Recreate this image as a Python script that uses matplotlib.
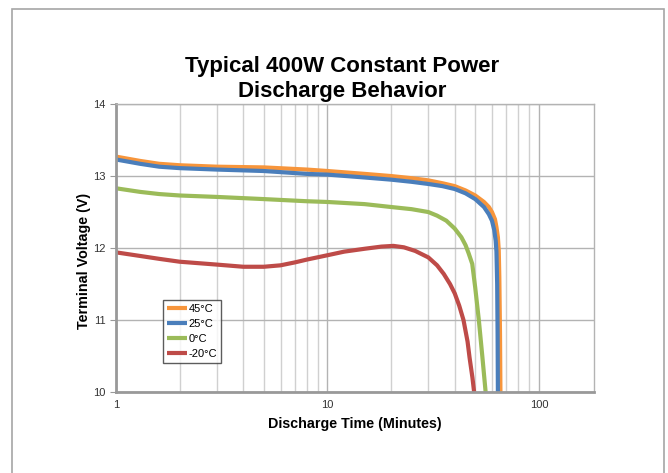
import matplotlib.pyplot as plt
from matplotlib.patches import Rectangle
from matplotlib.ticker import LogLocator, NullFormatter, FixedLocator

plt.rcParams['font.family'] = ['Liberation Sans', 'DejaVu Sans']

# discharge time (minutes) and terminal voltage (V)
t_45 = [1, 1.3, 1.6, 2, 3, 5, 8, 10, 15, 20, 25, 30, 35, 40, 45, 50, 55, 58, 60, 62, 63, 64, 64.6, 65, 65.5, 65.8]
v_45 = [13.27, 13.21, 13.17, 13.15, 13.13, 13.12, 13.09, 13.07, 13.03, 13.0, 12.97, 12.94, 12.9, 12.86,
        12.8, 12.73, 12.64, 12.57, 12.5, 12.4, 12.29, 12.15, 11.97, 11.6, 10.8, 10.0]

t_25 = [1, 1.3, 1.6, 2, 3, 5, 8, 10, 15, 20, 25, 30, 35, 40, 45, 50, 55, 58, 60, 61.5, 62.5, 63, 63.5, 63.8, 64]
v_25 = [13.23, 13.17, 13.13, 13.11, 13.09, 13.07, 13.03, 13.02, 12.98, 12.95, 12.92, 12.89, 12.86, 12.82,
        12.76, 12.68, 12.57, 12.47, 12.38, 12.25, 12.1, 11.95, 11.5, 10.8, 10.0]

t_0 = [1, 1.3, 1.6, 2, 3, 5, 8, 10, 15, 20, 25, 30, 33, 36.5, 40, 43, 45, 46.5, 48.4, 50, 52, 54, 56]
v_0 = [12.83, 12.78, 12.75, 12.73, 12.71, 12.68, 12.65, 12.64, 12.61, 12.57, 12.54, 12.5, 12.45, 12.38,
       12.27, 12.15, 12.04, 11.93, 11.78, 11.45, 11.0, 10.5, 10.0]

t_m20 = [1, 1.3, 1.6, 2, 3, 4, 5, 6, 7, 8, 10, 12, 15, 18, 20.5, 23, 26, 30, 33, 35.5, 38, 40, 42, 44,
         46, 47, 48.5, 49.4]
v_m20 = [11.94, 11.89, 11.85, 11.81, 11.77, 11.74, 11.74, 11.76, 11.8, 11.84, 11.9, 11.95, 11.99, 12.02,
         12.03, 12.01, 11.96, 11.87, 11.76, 11.64, 11.5, 11.37, 11.2, 11.0, 10.7, 10.48, 10.2, 10.0]

series = [
    ("45°C", t_45, v_45, "#f7953b"),
    ("25°C", t_25, v_25, "#4a7ebb"),
    ("0°C", t_0, v_0, "#9bbb59"),
    ("-20°C", t_m20, v_m20, "#be4b48"),
]

fig = plt.figure(figsize=(6.68, 4.73), dpi=100)
ax = fig.add_axes([0.1737, 0.1712, 0.889 - 0.1737, 0.780 - 0.1712])

# outer chart border
fig.patches.append(Rectangle((12 / 668, -0.05), (664 - 12) / 668, 1 - 9 / 473 + 0.05,
                             transform=fig.transFigure, fill=False,
                             edgecolor="#a6a6a6", linewidth=1.2))

for name, t, v, c in series:
    ax.plot(t, v, color=c, linewidth=3, label=name, solid_capstyle="butt", solid_joinstyle="round")

ax.set_xscale("log")
ax.set_xlim(1, 182)
ax.set_ylim(10, 14)
ax.set_yticks([10, 11, 12, 13, 14])
ax.xaxis.set_major_locator(FixedLocator([1, 10, 100]))
ax.set_xticklabels(["1", "10", "100"])
ax.xaxis.set_minor_locator(LogLocator(base=10, subs=range(2, 10)))
ax.xaxis.set_minor_formatter(NullFormatter())

ax.grid(True, which="major", color="#b3b3b3", linewidth=1.0)
ax.grid(True, which="minor", axis="x", color="#d0d0d0", linewidth=1.0)
ax.set_axisbelow(True)

for s in ["top", "right"]:
    ax.spines[s].set_color("#b3b3b3")
    ax.spines[s].set_linewidth(1.0)
for s in ["left", "bottom"]:
    ax.spines[s].set_color("#999999")
    ax.spines[s].set_linewidth(2)

ax.tick_params(axis="both", which="major", labelsize=8, colors="#333333", length=4, color="#999999")
ax.tick_params(axis="x", which="major", length=0, pad=6)
ax.tick_params(axis="x", which="minor", length=0)

ax.set_xlabel("Discharge Time (Minutes)", fontsize=10.3, fontweight="bold", labelpad=5)
ax.set_ylabel("Terminal Voltage (V)", fontsize=10.3, fontweight="bold")
ax.yaxis.set_label_coords(-0.052, 0.455)
fig.text(342 / 668, 1 - 79 / 473, "Typical 400W Constant Power\nDischarge Behavior",
         ha="center", va="center", fontsize=16, fontweight="bold", linespacing=1.26)

leg = ax.legend(loc="upper left", bbox_to_anchor=((163 - 116) / 478, 1 - (300 - 104) / 288),
                fontsize=8, frameon=True, fancybox=False, handlelength=1.8,
                handletextpad=0.15, borderpad=0.35, labelspacing=0.45, borderaxespad=0)
leg.get_frame().set_edgecolor("#333333")
leg.get_frame().set_linewidth(1.0)
leg.set_zorder(5)

fig.savefig("out.png", dpi=100)
